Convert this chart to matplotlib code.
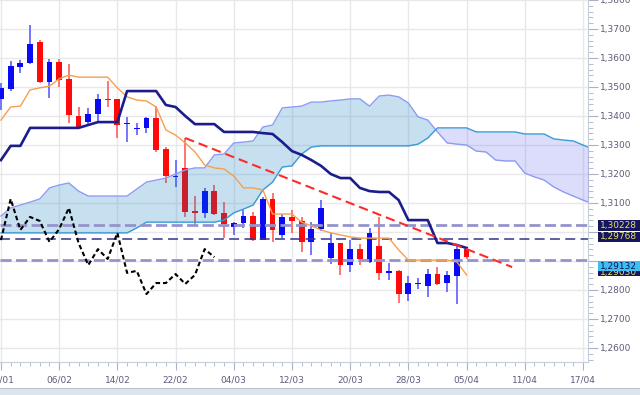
import numpy as np
import matplotlib
matplotlib.use("Agg")
import matplotlib.pyplot as plt
from matplotlib.patches import Rectangle
from matplotlib.ticker import MultipleLocator

# daily candles, 29/01 .. 05/04 (one entry per bar)
opens = [1.3459, 1.3493, 1.3569, 1.3583, 1.3655, 1.3517, 1.3586, 1.3528, 1.3400, 1.3379,
         1.3407, 1.3459, 1.3459, 1.3372, 1.3355, 1.3359, 1.3393, 1.3286, 1.3190, 1.3221,
         1.3072, 1.3066, 1.3141, 1.3066, 1.3017, 1.3031, 1.3055, 1.2972, 1.3114, 1.2990,
         1.3052, 1.3038, 1.2966, 1.3010, 1.2910, 1.2962, 1.2886, 1.2941, 1.2897, 1.2952,
         1.2859, 1.2866, 1.2786, 1.2821, 1.2814, 1.2855, 1.2824, 1.2848, 1.2941]
highs = [1.3514, 1.3590, 1.3593, 1.3714, 1.3662, 1.3597, 1.3597, 1.3579, 1.3431, 1.3428,
         1.3476, 1.3521, 1.3459, 1.3397, 1.3376, 1.3397, 1.3434, 1.3293, 1.3248, 1.3324,
         1.3124, 1.3152, 1.3162, 1.3103, 1.3034, 1.3076, 1.3069, 1.3121, 1.3134, 1.3062,
         1.3076, 1.3052, 1.3034, 1.3110, 1.2997, 1.2962, 1.2972, 1.2959, 1.3014, 1.3052,
         1.2893, 1.2869, 1.2848, 1.2841, 1.2872, 1.2879, 1.2866, 1.2952, 1.2948]
lows = [1.3421, 1.3486, 1.3548, 1.3579, 1.3514, 1.3462, 1.3500, 1.3376, 1.3359, 1.3372,
        1.3376, 1.3431, 1.3324, 1.3310, 1.3334, 1.3341, 1.3276, 1.3169, 1.3155, 1.3052,
        1.3024, 1.3048, 1.3059, 1.2979, 1.2990, 1.3014, 1.2969, 1.2972, 1.2966, 1.2979,
        1.2997, 1.2931, 1.2921, 1.3003, 1.2890, 1.2852, 1.2862, 1.2886, 1.2893, 1.2834,
        1.2834, 1.2755, 1.2762, 1.2803, 1.2776, 1.2817, 1.2793, 1.2752, 1.2907]
closes = [1.3497, 1.3572, 1.3583, 1.3648, 1.3517, 1.3586, 1.3524, 1.3403, 1.3362, 1.3407,
          1.3459, 1.3455, 1.3369, 1.3376, 1.3359, 1.3393, 1.3283, 1.3193, 1.3193, 1.3069,
          1.3066, 1.3141, 1.3062, 1.3028, 1.3031, 1.3055, 1.2972, 1.3114, 1.3007, 1.3052,
          1.3038, 1.2966, 1.3010, 1.3083, 1.2962, 1.2886, 1.2941, 1.2907, 1.2997, 1.2859,
          1.2866, 1.2786, 1.2824, 1.2824, 1.2855, 1.2821, 1.2852, 1.2941, 1.29132]

tenkan = [1.3386, 1.3431, 1.3434, 1.3490, 1.3497, 1.3503, 1.3528, 1.3541, 1.3534, 1.3534,
          1.3534, 1.3534, 1.3497, 1.3466, 1.3455, 1.3452, 1.3431, 1.3352, 1.3334, 1.3307,
          1.3276, 1.3231, 1.3221, 1.3217, 1.3193, 1.3152, 1.3152, 1.3145, 1.3062, 1.3062,
          1.3062, 1.3034, 1.3021, 1.3007, 1.2997, 1.2990, 1.2983, 1.2979, 1.2979, 1.2979,
          1.2979, 1.2938, 1.2903, 1.2903, 1.2903, 1.2903, 1.2903, 1.2897, 1.2852]
kijun = [1.3248, 1.3297, 1.3297, 1.3359, 1.3359, 1.3359, 1.3359, 1.3359, 1.3359, 1.3369,
         1.3379, 1.3379, 1.3379, 1.3486, 1.3486, 1.3486, 1.3486, 1.3438, 1.3431, 1.3400,
         1.3372, 1.3372, 1.3372, 1.3345, 1.3345, 1.3345, 1.3345, 1.3341, 1.3338, 1.3310,
         1.3279, 1.3266, 1.3248, 1.3228, 1.3200, 1.3186, 1.3186, 1.3152, 1.3141, 1.3138,
         1.3138, 1.3110, 1.3041, 1.3041, 1.3041, 1.2962, 1.2962, 1.2955, 1.2945]
# cloud, projected 26 bars ahead (index 0..61)
span_a = [1.3055, 1.3083, 1.3093, 1.3103, 1.3114, 1.3152, 1.3162, 1.3169, 1.3141, 1.3124,
          1.3124, 1.3124, 1.3124, 1.3124, 1.3148, 1.3172, 1.3179, 1.3186, 1.3200, 1.3214,
          1.3221, 1.3221, 1.3266, 1.3269, 1.3307, 1.3310, 1.3314, 1.3362, 1.3369, 1.3428,
          1.3431, 1.3434, 1.3448, 1.3448, 1.3452, 1.3455, 1.3459, 1.3459, 1.3434, 1.3469,
          1.3472, 1.3466, 1.3445, 1.3397, 1.3386, 1.3345, 1.3307, 1.3303, 1.3300, 1.3279,
          1.3276, 1.3248, 1.3245, 1.3245, 1.3203, 1.3190, 1.3179, 1.3155, 1.3138, 1.3124,
          1.3110, 1.3097]
span_b = [1.2997, 1.2997, 1.2997, 1.2997, 1.2997, 1.2997, 1.2997, 1.2997, 1.2997, 1.2997,
          1.2997, 1.2997, 1.2997, 1.2997, 1.3014, 1.3034, 1.3034, 1.3034, 1.3034, 1.3034,
          1.3034, 1.3034, 1.3034, 1.3041, 1.3066, 1.3079, 1.3093, 1.3145, 1.3172, 1.3224,
          1.3228, 1.3269, 1.3293, 1.3297, 1.3297, 1.3297, 1.3297, 1.3297, 1.3297, 1.3297,
          1.3297, 1.3297, 1.3297, 1.3303, 1.3324, 1.3359, 1.3359, 1.3359, 1.3359, 1.3345,
          1.3345, 1.3345, 1.3345, 1.3345, 1.3338, 1.3338, 1.3338, 1.3321, 1.3317, 1.3314,
          1.3300, 1.3286]

date_labels = ["29/01", "06/02", "14/02", "22/02", "04/03", "12/03",
               "20/03", "28/03", "05/04", "11/04", "17/04"]
trend_x = [19, 52.7]
trend_y = [1.3324, 1.2879]
level_hi = 1.30228
level_mid = 1.29768
level_lo = 1.29030
last_price = 1.29132

TXT = "#5c5c7a"
W, H = 640, 395


def fy(py):
    return 1 - py / H


fig = plt.figure(figsize=(W / 100, H / 100), dpi=100)
ax = fig.add_axes([0, fy(362), 588 / W, 362 / H])

o, h, l, c = map(np.array, (opens, highs, lows, closes))
idx = np.arange(len(c))
up = c >= o

# candles (wicks lighter than bodies)
ax.vlines(idx, l, h, colors=np.where(up, "#6a6aff", "#ff6a6a"), lw=1.3, zorder=2)
ax.bar(idx, np.maximum(np.abs(c - o), 0.00035), bottom=np.minimum(o, c), width=0.6,
       color=np.where(up, "#0a0af5", "#ff0a0a"), lw=0, zorder=2.5)

# cloud on top of candles, translucent
ic = np.arange(len(span_a))
sa, sb = np.array(span_a), np.array(span_b)
ax.fill_between(ic, sa, sb, where=sa >= sb, interpolate=True,
                color=(0.0, 0.45, 0.73), alpha=0.22, lw=0, zorder=3)
ax.fill_between(ic, sa, sb, where=sa < sb, interpolate=True,
                color=(0.39, 0.39, 0.94), alpha=0.22, lw=0, zorder=3)
ax.plot(ic, sa, color="#8c9cf2", lw=1, zorder=3.2)
ax.plot(ic, sb, color="#3a9ad8", lw=1, zorder=3.2)

# horizontal levels
ax.axhline(level_hi, color="#9494cc", lw=2, dashes=(4, 1.6), zorder=4)
ax.axhline(level_mid, color="#33338a", lw=1.1, dashes=(6.5, 3.5), zorder=4)
ax.axhline(level_lo, color="#9494cc", lw=2, dashes=(4, 1.6), zorder=4)

ax.plot(idx, tenkan, color="#f5a04e", lw=1, zorder=5)
ax.plot(idx, kijun, color="#1c1c8c", lw=1.9, zorder=5)
ax.plot(idx[:len(c) - 26], c[26:], color="black", lw=1.5, dashes=(2.2, 1.4), zorder=5)
ax.plot(trend_x, trend_y, color="#ff2a2a", lw=1.5, dashes=(4.5, 2.4), zorder=6)

ax.set_xlim(-0.1, 60.52)
ax.set_ylim(1.38 - 362 / 2900, 1.38)

ax.set_xticks(range(0, 61, 6))
ax.set_xticklabels(date_labels)
ax.xaxis.set_minor_locator(MultipleLocator(1))
ax.yaxis.tick_right()
yt = np.round(np.arange(1.26, 1.3801, 0.01), 2)
ax.set_yticks(yt)
# 1,3000 and 1,2900 sit under the price tags
ax.set_yticklabels(["" if v in (1.29, 1.30) else f"{v:.4f}".replace(".", ",") for v in yt])
ax.yaxis.set_minor_locator(MultipleLocator(0.002))

for s in ("left", "top"):
    ax.spines[s].set_visible(False)
for s in ("right", "bottom"):
    ax.spines[s].set_color("#c6cddb")
ax.tick_params(axis="both", which="both", color="#aab2c4", labelcolor=TXT, labelsize=6.5)
ax.tick_params(axis="x", which="major", length=6, pad=4)
ax.tick_params(axis="x", which="minor", length=3)
ax.tick_params(axis="y", which="major", length=7, pad=1.5)
ax.tick_params(axis="y", which="minor", length=3.5)
ax.grid(True, which="major", color="#e8e8ec", lw=1)
ax.set_axisbelow(True)

# price tags on the right axis
tags = [(level_hi, 220, 230.5, "#16165e", "#e4e070", 5),
        (level_mid, 231.5, 242, "#16165e", "#e4e070", 5),
        (last_price, 261, 271, "#3cc0f0", "#10105a", 6)]
for v, y0, y1, fc, tc, z in tags:
    fig.patches.append(Rectangle((598 / W, fy(y1)), 1, (y1 - y0) / H, transform=fig.transFigure,
                                 fc=fc, ec="none", zorder=z))
    fig.text(600 / W, fy((y0 + y1) / 2), f"{v:.5f}".replace(".", ","), color=tc,
             fontsize=6.5, va="center", ha="left", zorder=z + 0.5)

# tag of the lower level, mostly hidden under the last-price tag
fig.patches.append(Rectangle((598 / W, fy(276)), 1, 10 / H, transform=fig.transFigure,
                             fc="#16165e", ec="none", zorder=4))
low_tag = fig.text(600 / W, fy(272.5), f"{level_lo:.5f}".replace(".", ","), color="#e4e070",
                   fontsize=6.5, va="center", ha="left", zorder=4.5)
low_tag.set_clip_path(Rectangle((598 / W, fy(276)), 1, 5 / H, transform=fig.transFigure))

# scrollbar strip at the bottom
fig.patches.append(Rectangle((0, 0), 1, 6 / H, transform=fig.transFigure,
                             fc="#dde4ee", ec="none"))
fig.patches.append(Rectangle((0, 6 / H), 1, 1 / H, transform=fig.transFigure,
                             fc="#b6c2d2", ec="none"))

fig.savefig("out.png", dpi=100)
